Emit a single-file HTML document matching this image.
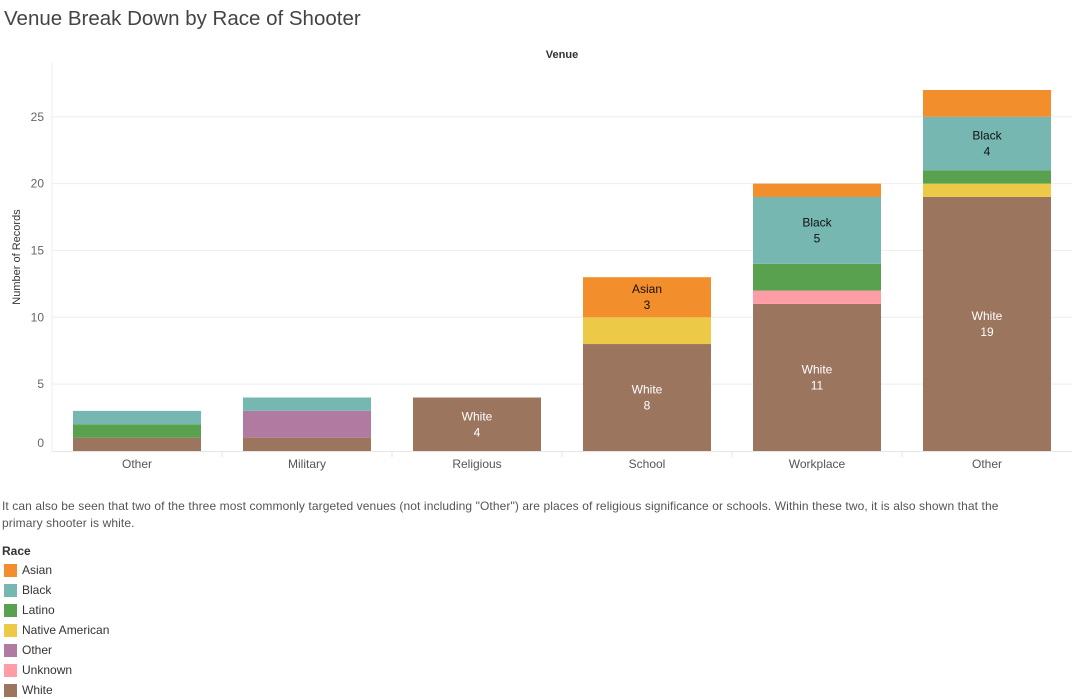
<!DOCTYPE html>
<html><head><meta charset="utf-8"><style>
body{margin:0;width:1072px;height:699px;background:#fff;font-family:"Liberation Sans",sans-serif;overflow:hidden;position:relative}
.t{position:absolute;white-space:nowrap}
</style></head><body>
<div class="t" style="left:4px;top:7px;font-size:20.5px;color:#444">Venue Break Down by Race of Shooter</div>
<svg id="c" width="1072" height="480" style="position:absolute;left:0;top:0" font-family="Liberation Sans, sans-serif"></svg>
<div class="t" style="left:2px;top:498px;font-size:12px;color:#555;line-height:17px;white-space:nowrap;letter-spacing:0.1px">It can also be seen that two of the three most commonly targeted venues (not including "Other") are places of religious significance or schools. Within these two, it is also shown that the<br>primary shooter is white.</div>
<div class="t" style="left:2px;top:544px;font-size:12px;font-weight:bold;color:#333">Race</div>
<div id="leg"></div>
<script>
const categories=["Other","Military","Religious","School","Workplace","Other"];
const races=["White","Unknown","Other","Native American","Latino","Black","Asian"];
const white=[1,1,4,8,11,19];
const unknown=[0,0,0,0,1,0];
const other=[0,2,0,0,0,0];
const native=[0,0,0,2,0,1];
const latino=[1,0,0,0,2,1];
const black=[1,1,0,0,5,4];
const asian=[0,0,0,3,1,2];
const yTicks=[0,5,10,15,20,25];
const series=[white,unknown,other,native,latino,black,asian];
const colors={"Asian":"#f28e2b","Black":"#76b7b2","Latino":"#59a14f","Native American":"#edc948","Other":"#b07aa1","Unknown":"#ff9da7","White":"#9c755f"};
const NS="http://www.w3.org/2000/svg",svg=document.getElementById('c');
const y=v=>451-v*13.37, x0=52, step=170;
function mk(t,a,txt){const e=document.createElementNS(NS,t);for(const k in a)e.setAttribute(k,a[k]);if(txt!=null)e.textContent=txt;svg.appendChild(e);return e;}
const hd=mk('text',{x:562,y:58,'font-size':11,'font-weight':'bold','text-anchor':'middle',fill:'#333'},'Venue');


mk('line',{x1:x0,y1:63,x2:x0,y2:451,stroke:'#eee'});
yTicks.forEach(t=>{
 if(t>0)mk('line',{x1:x0,x2:1072,y1:y(t),y2:y(t),stroke:'#eee'});
 const l=mk('text',{x:44,y:y(t)+(t==0?-4:4),'font-size':12,'text-anchor':'end',fill:'#666'},t);
 
 
});
mk('line',{x1:x0,x2:1072,y1:451.5,y2:451.5,stroke:'#e6e6e6'});
const yt=mk('text',{transform:'translate(20,257) rotate(-90)','font-size':11,'text-anchor':'middle',fill:'#333'},'Number of Records');


categories.forEach((c,i)=>{
 const bx=x0+21+i*step, bw=128;
 if(i>0)mk('line',{x1:x0+i*step,x2:x0+i*step,y1:451,y2:457,stroke:'#e6e6e6'});
 let cum=0;
 series.forEach((s,j)=>{
  const v=s[i]; if(!v)return;
  const r=mk('rect',{x:bx,y:y(cum+v),width:bw,height:y(cum)-y(cum+v),fill:colors[races[j]]});
  
  
  if(v>=3){const cy=(y(cum)+y(cum+v))/2,col=races[j]=="White"?'#fff':'#111';
   mk('text',{x:bx+bw/2,y:cy-4,'font-size':12,'text-anchor':'middle',fill:col},races[j]);
   mk('text',{x:bx+bw/2,y:cy+12,'font-size':12,'text-anchor':'middle',fill:col},v);}
  cum+=v;
 });
 const l=mk('text',{x:bx+bw/2,y:468,'font-size':12,'text-anchor':'middle',fill:'#555'},c);
 
 
});
const leg=document.getElementById('leg');
["Asian","Black","Latino","Native American","Other","Unknown","White"].forEach((r,i)=>{
 const d=document.createElement('div');d.className='t';
 d.style.cssText=`left:4px;top:${563+i*20}px;font-size:12px;color:#333;display:flex;align-items:center`;
 d.innerHTML=`<span style="display:inline-block;width:13px;height:13px;background:${colors[r]};margin-right:5px"></span>${r}`;
 
 
 leg.appendChild(d);
});
</script>
</body></html>
